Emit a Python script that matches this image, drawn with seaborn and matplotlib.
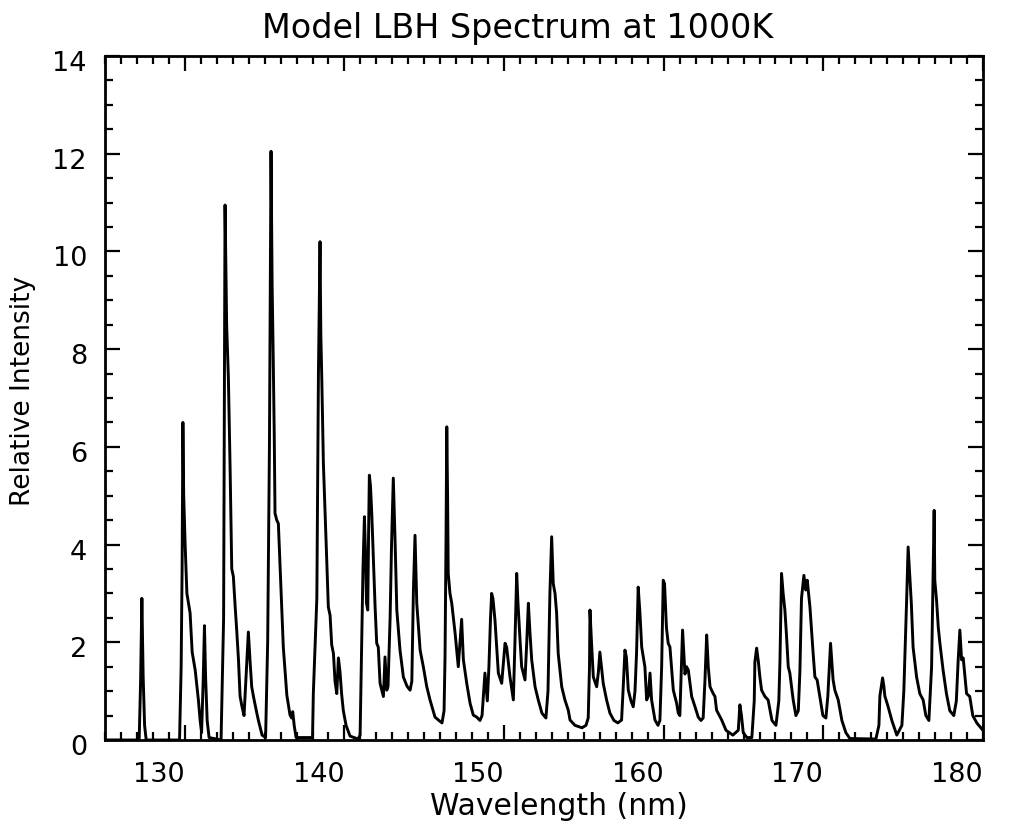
import matplotlib
matplotlib.use("Agg")
import matplotlib.pyplot as plt
import matplotlib.transforms as mtransforms
import seaborn as sns
import pandas as pd
from matplotlib.ticker import MultipleLocator

# Wavelength (nm) and relative intensity
wavelength = [
    125.0, 126.95, 127.14, 127.23, 127.31, 127.39, 127.48, 127.58,
    129.67, 129.77, 129.83, 129.88, 129.93, 130.02, 130.13, 130.33, 130.46, 130.65, 130.85, 130.96, 131.05,
    131.15, 131.23, 131.30, 131.40, 131.52,
    132.27, 132.43, 132.52, 132.62, 132.73, 132.84, 132.94, 133.04, 133.15, 133.26, 133.36, 133.46, 133.57, 133.71,
    133.87, 133.98, 134.09, 134.19, 134.30, 134.51, 134.61, 134.84, 135.06,
    135.19, 135.30, 135.40, 135.47, 135.53, 135.60, 135.65, 135.76, 135.86, 135.97, 136.07, 136.17, 136.39,
    136.59, 136.69, 136.76, 136.85, 136.97,
    138.00, 138.05, 138.16, 138.27, 138.37, 138.47, 138.52, 138.58, 138.68, 138.79, 138.89, 138.99, 139.10,
    139.20, 139.31, 139.41, 139.52, 139.62, 139.72, 139.82, 139.93, 140.10, 140.35, 140.85,
    140.98, 141.08, 141.16, 141.25, 141.32, 141.38, 141.46, 141.51, 141.56, 141.63, 141.71, 141.82, 141.92,
    142.02, 142.12, 142.23, 142.34, 142.44, 142.54, 142.65, 142.73, 142.86, 142.95, 143.06, 143.17, 143.28,
    143.48, 143.69, 143.92, 144.11, 144.22, 144.32, 144.42, 144.53, 144.64, 144.74, 144.94, 145.15, 145.36,
    145.67, 145.88, 146.11, 146.24,
    146.30, 146.36, 146.41, 146.46, 146.50, 146.61, 146.72, 146.93, 147.03, 147.13, 147.24, 147.34, 147.45,
    147.66, 147.87, 148.07, 148.28, 148.49, 148.62,
    148.80, 148.95, 149.05, 149.15, 149.22, 149.30, 149.43, 149.64, 149.85, 149.96, 150.06, 150.16, 150.37,
    150.58, 150.68, 150.79, 150.87, 151.00, 151.10, 151.31, 151.42, 151.52, 151.62, 151.73, 151.94, 152.14,
    152.37, 152.62, 152.75, 152.87, 152.98, 153.08, 153.19, 153.29, 153.39, 153.61, 153.81, 154.02, 154.13,
    154.44, 154.88, 155.13, 155.27, 155.35, 155.38, 155.49, 155.59, 155.80, 155.91, 156.00, 156.21, 156.42,
    156.63, 156.88, 157.13, 157.36, 157.48, 157.57, 157.66, 157.78, 157.95, 158.09, 158.20, 158.30, 158.40,
    158.51, 158.62, 158.82, 158.93, 159.04, 159.14, 159.24, 159.45, 159.64, 159.76, 159.87, 159.97, 160.05,
    160.17, 160.28, 160.39, 160.60, 160.81, 160.91, 161.01, 161.11, 161.18, 161.27, 161.33, 161.43, 161.54,
    161.75, 161.96, 162.16, 162.33, 162.47, 162.58, 162.69, 162.79, 162.90, 163.10, 163.21, 163.31, 163.63,
    163.90, 164.33, 164.67, 164.77, 164.87, 164.98, 165.21, 165.52, 165.67, 165.71, 165.82, 165.93, 166.02,
    166.13, 166.34, 166.54, 166.78, 167.03, 167.21, 167.28, 167.38, 167.48, 167.59, 167.68, 167.80, 167.90,
    168.11, 168.28, 168.43, 168.53, 168.63, 168.78, 168.90, 168.99, 169.16, 169.36, 169.47, 169.61, 169.78,
    169.97, 170.16, 170.28, 170.45, 170.61, 170.72, 170.93, 171.16, 171.41, 171.66, 173.29, 173.48, 173.54,
    173.71, 173.79, 173.85, 174.04, 174.29, 174.60, 174.92, 175.04, 175.21, 175.31, 175.42, 175.51, 175.62,
    175.84, 176.04, 176.25, 176.42, 176.61, 176.78, 176.88, 176.94, 176.98, 177.09, 177.20, 177.30, 177.50,
    177.71, 177.92, 178.17, 178.33, 178.44, 178.55, 178.66, 178.76, 178.97, 179.17, 179.36, 179.61, 179.99,
]
intensity = [
    0.0, 0.0, 0.0, 1.2, 2.9, 1.3, 0.3, 0.0,
    0.0, 1.5, 3.5, 6.5, 5.0, 4.0, 3.0, 2.6, 1.8, 1.43, 0.82, 0.4, 0.15,
    1.2, 2.34, 1.3, 0.4, 0.05,
    0.0, 2.5, 10.95, 8.5, 7.4, 5.5, 3.5, 3.35, 2.75, 2.2, 1.65, 0.9, 0.7, 0.5,
    1.5, 2.21, 1.6, 1.09, 0.89, 0.55, 0.4, 0.1, 0.05,
    2.0, 6.0, 12.05, 9.3, 8.0, 6.3, 4.64, 4.5, 4.43, 3.54, 2.72, 1.9, 0.92,
    0.51, 0.45, 0.58, 0.3, 0.05,
    0.05, 0.95, 1.95, 2.9, 7.5, 10.2, 8.3, 7.4, 5.66, 4.64, 3.68, 2.72, 2.55,
    1.95, 1.77, 1.2, 0.95, 1.68, 1.4, 0.95, 0.6, 0.3, 0.08, 0.02,
    0.1, 2.0, 3.5, 4.57, 3.8, 2.8, 2.66, 4.2, 5.42, 5.2, 4.64, 3.6, 2.72,
    1.98, 1.9, 1.16, 1.02, 0.89, 1.7, 1.02, 1.1, 2.5, 4.0, 5.36, 4.09, 2.66,
    1.84, 1.29, 1.1, 1.02, 1.2, 3.07, 4.19, 2.8, 2.3, 1.84, 1.5, 1.1, 0.82,
    0.47, 0.41, 0.35, 0.6,
    1.7, 4.0, 6.41, 5.0, 3.41, 3.0, 2.8, 2.19, 1.84, 1.5, 2.0, 2.47, 1.64,
    1.16, 0.75, 0.51, 0.47, 0.4, 0.5,
    1.37, 0.8, 1.5, 2.5, 3.0, 2.9, 2.45, 1.37, 1.16, 1.6, 1.98, 1.9, 1.29,
    0.82, 2.0, 3.41, 2.8, 2.04, 1.5, 1.23, 2.0, 2.8, 2.2, 1.64, 1.09, 0.82,
    0.55, 0.45, 1.0, 3.0, 4.16, 3.2, 3.0, 2.6, 1.77, 1.09, 0.82, 0.61, 0.41,
    0.3, 0.25, 0.3, 0.45, 1.5, 2.66, 1.9, 1.29, 1.09, 1.4, 1.8, 1.16, 0.82,
    0.55, 0.4, 0.35, 0.41, 1.2, 1.84, 1.7, 1.02, 0.8, 0.68, 1.0, 1.8, 3.13,
    2.6, 1.9, 1.5, 0.82, 0.9, 1.37, 0.82, 0.41, 0.3, 0.4, 1.5, 3.27, 3.2,
    2.3, 1.98, 1.9, 1.02, 0.75, 0.55, 0.5, 1.5, 2.25, 1.7, 1.35, 1.5, 1.43,
    0.89, 0.68, 0.47, 0.4, 0.45, 1.2, 2.15, 1.5, 1.09, 0.95, 0.89, 0.61, 0.41,
    0.2, 0.1, 0.2, 0.72, 0.5, 0.15, 0.05, 0.05, 0.8, 1.6, 1.88, 1.6, 1.3,
    1.02, 0.89, 0.82, 0.4, 0.3, 0.8, 1.6, 3.41, 3.0, 2.66, 2.2, 1.5, 1.37,
    0.82, 0.5, 0.6, 1.4, 2.9, 3.37, 3.07, 3.27, 2.72, 1.77, 1.29, 1.23, 0.89,
    0.5, 0.45, 0.9, 1.98, 1.23, 1.02, 0.82, 0.4, 0.15, 0.03, 0.02, 0.3, 0.9,
    1.27, 1.1, 0.9, 0.7, 0.4, 0.1, 0.3, 1.0, 2.8, 3.95, 3.33, 2.8, 1.9,
    1.29, 0.95, 0.82, 0.5, 0.4, 1.5, 3.5, 4.7, 3.27, 2.86, 2.3, 1.98, 1.43,
    0.95, 0.6, 0.5, 0.8, 1.6, 2.25, 1.64, 1.68, 0.95, 0.89, 0.5, 0.35, 0.2,
]

title = "Model LBH Spectrum at 1000K"
xlabel = "Wavelength (nm)"
ylabel = "Relative Intensity"

df = pd.DataFrame({"wl": wavelength, "inten": intensity})

sns.set_theme(style="white")
plt.rcParams["font.family"] = ["DejaVu Sans"]

fig = plt.figure(figsize=(10.13, 8.26), dpi=100)
ax = fig.add_axes([105 / 1013, 1 - 740 / 826, (983 - 105) / 1013, (740 - 56) / 826])

sns.lineplot(data=df, x="wl", y="inten", ax=ax, color="black", linewidth=2.1,
             sort=False, estimator=None)

ax.set_xlim(125, 180)
ax.set_ylim(0, 14)
ax.xaxis.set_minor_locator(MultipleLocator(1))
ax.yaxis.set_major_locator(MultipleLocator(2))
ax.yaxis.set_minor_locator(MultipleLocator(0.5))
ax.set_xticks([130, 140, 150, 160, 170, 180])

ax.tick_params(which="both", direction="in", top=True, right=True, bottom=True, left=True,
               color="black", width=1.6, labelsize=19.5, labelcolor="black")
ax.tick_params(which="major", length=11, pad=13)
ax.tick_params(axis="x", which="major", pad=16)
ax.tick_params(which="minor", length=6)

# the reference prints the x tick labels slightly left of their ticks,
# and the y tick labels slightly below theirs
xshift = mtransforms.ScaledTranslation(-26 / 100, 0, fig.dpi_scale_trans)
for lab in ax.get_xticklabels():
    lab.set_transform(lab.get_transform() + xshift)
yshift = mtransforms.ScaledTranslation(0, -5 / 100, fig.dpi_scale_trans)
for lab in ax.get_yticklabels():
    lab.set_transform(lab.get_transform() + yshift)

for sp in ax.spines.values():
    sp.set_visible(True)
    sp.set_color("black")
    sp.set_linewidth(2.0)

ax.set_xlabel(xlabel, fontsize=21.5, labelpad=3, color="black", x=0.517)
ax.set_ylabel(ylabel, fontsize=19, labelpad=12, color="black", y=0.51)
ax.set_title(title, fontsize=24, pad=13, color="black", x=0.47)

fig.savefig("out.png", dpi=100, facecolor="white")
